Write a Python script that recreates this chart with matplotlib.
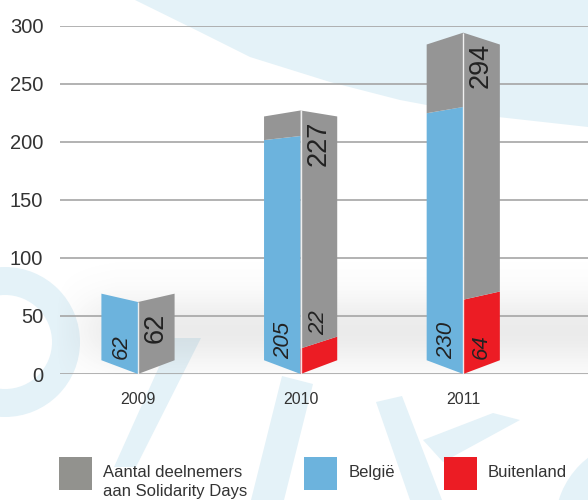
import numpy as np
import matplotlib
matplotlib.use('Agg')
import matplotlib.pyplot as plt
from matplotlib.patches import Polygon, Rectangle, Wedge

# data
years = ['2009', '2010', '2011']
totaal = [62, 227, 294]       # Aantal deelnemers aan Solidarity Days
belgie = [62, 205, 230]
buitenland = [0, 22, 64]

GREY = '#959595'
BLUE = '#6cb3dd'
RED = '#ec1c24'
WATER = '#e4f2f8'
TXT = '#333333'

plt.rcParams['font.family'] = ['Liberation Sans', 'DejaVu Sans']

fig = plt.figure(figsize=(5.88, 5.0), dpi=100)

# background layer (pixel coordinates, y down)
bg = fig.add_axes([0, 0, 1, 1], zorder=0)

# grey "floor" shading behind the bars
yy = np.arange(500)[:, None]
xx = np.arange(588)[None, :]
alpha = 0.14 * np.exp(-((yy - 330) / 36.0) ** 2) * np.clip((xx - 55) / 60.0, 0, 1)
alpha[yy[:, 0] > 374, :] = 0
img = np.zeros((500, 588, 4))
img[..., :3] = 0.45
img[..., 3] = alpha
bg.imshow(img, extent=(0, 588, 500, 0), aspect='auto', zorder=1)

# watermark shapes
wm = [
    [(135, 0), (200, 32), (250, 57), (330, 82), (400, 100), (480, 115), (588, 127), (588, 0)],
    [(172, 338), (201, 338), (136, 467), (114, 467)],
    [(282, 376), (313, 384), (284, 500), (251, 500)],
    [(376, 402), (402, 396), (442, 500), (410, 500)],
    [(423, 440), (493, 413), (520, 420), (443, 462)],
]
for pts in wm:
    bg.add_patch(Polygon(pts, closed=True, fc=WATER, ec='none', zorder=0))
bg.add_patch(Wedge((5, 342), 75, 0, 360, width=28, fc=WATER, ec='none', zorder=0))
bg.add_patch(Wedge((640, 525), 85, 0, 360, width=30, fc=WATER, ec='none', zorder=0))

# legend
legend = [('#92928e', 59, 103, 'Aantal deelnemers\naan Solidarity Days'),
          (BLUE, 304, 349, 'België'),
          (RED, 444, 488, 'Buitenland')]
for col, xr, xt, lab in legend:
    bg.add_patch(Rectangle((xr, 457), 33, 33, fc=col, ec='none', zorder=2))
    bg.text(xt, 465, lab, fontsize=12, color=TXT, va='top', ha='left',
            linespacing=1.3, zorder=2)

bg.set_xlim(0, 588)
bg.set_ylim(500, 0)
bg.axis('off')

# main chart
ax = fig.add_axes([60 / 588, 126 / 500, 528 / 588, 348.3 / 500], zorder=1)
ax.patch.set_alpha(0)
ax.set_xlim(-0.4796, 2.767)
ax.set_ylim(0, 300)

H, K, W = 158, 0.925, 0.225


def persp(v):
    return H + (v - H) * K


def face(x0, side, lo, hi, color):
    xo = x0 + side * W
    pts = [(x0, lo), (xo, persp(lo)), (xo, persp(hi)), (x0, hi)]
    ax.add_patch(Polygon(pts, closed=True, fc=color, ec='none', zorder=3, clip_on=False))


for i in range(len(years)):
    t, b, f = totaal[i], belgie[i], buitenland[i]
    face(i, -1, 0, b, BLUE)
    if t > b:
        face(i, -1, b, t, GREY)
    if f > 0:
        face(i, 1, 0, f, RED)
    face(i, 1, f, t, GREY)
    ax.plot([i, i], [0, t], color='white', lw=1.0, alpha=0.85, zorder=4,
            solid_capstyle='butt')

    ax.text(i - 0.105, 12.5, str(b), rotation=90, ha='center', va='bottom',
            fontsize=16, style='italic', color='#222222', zorder=5)
    ax.text(i + 0.108, t - 9, str(t), rotation=90, ha='center', va='top',
            fontsize=19.5, color='#222222', zorder=5)
    if f > 0:
        yl = 12.5 if f > 40 else f + 12
        ax.text(i + 0.108, yl, str(f), rotation=90, ha='center', va='bottom',
                fontsize=16, style='italic', color='#222222', zorder=5)

ax.set_yticks(range(0, 301, 50))
ax.set_xticks(range(len(years)))
ax.set_xticklabels(years)
ax.grid(axis='y', color='#a5a5a5', lw=1.2)
ax.set_axisbelow(True)
for s in ax.spines.values():
    s.set_visible(False)
ax.tick_params(axis='y', length=0, pad=12, labelsize=14.5, labelcolor=TXT)
ax.tick_params(axis='x', length=0, pad=13, labelsize=11.5, labelcolor=TXT)

fig.savefig('out.png', dpi=100)
